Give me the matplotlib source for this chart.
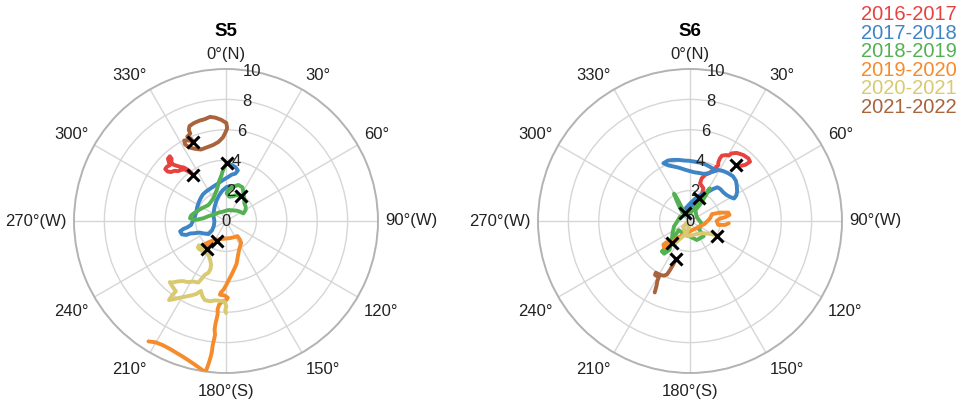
import numpy as np
import matplotlib
matplotlib.use("Agg")
import matplotlib.pyplot as plt
from matplotlib.transforms import offset_copy

plt.rcParams["font.family"] = ["Liberation Sans", "DejaVu Sans"]

# Season labels and colours
seasons = ["2016-2017", "2017-2018", "2018-2019", "2019-2020", "2020-2021", "2021-2022"]
colors = ["#e8423f", "#3d85c6", "#54b153", "#f68b2c", "#d9c970", "#a8643c"]

# Drift tracks: (x, y) offsets from the station, x toward 90°, y toward 0°.
# The first point of each track is the marked position.
s5_1617 = [(-2.15, 3.03), (-2.35, 3.18), (-2.55, 3.30), (-2.75, 3.40), (-2.95, 3.36), (-3.15, 3.28),
           (-3.40, 3.30), (-3.62, 3.22), (-3.85, 3.26), (-4.00, 3.42), (-3.88, 3.58), (-3.70, 3.66),
           (-3.76, 3.88), (-3.82, 4.10), (-3.70, 4.26), (-3.58, 4.10), (-3.60, 3.85), (-3.45, 3.70),
           (-3.20, 3.62), (-3.00, 3.56), (-2.78, 3.52), (-2.60, 3.42), (-2.42, 3.30), (-2.28, 3.15)]
s5_1718 = [(0.04, 3.79), (0.37, 3.68), (0.62, 3.55), (0.78, 3.32), (0.62, 3.12), (0.38, 3.05),
           (0.18, 2.92), (-0.05, 2.78), (-0.30, 2.63), (-0.55, 2.45), (-0.78, 2.30), (-1.05, 2.12),
           (-1.30, 1.95), (-1.52, 1.75), (-1.68, 1.48), (-1.80, 1.20), (-1.90, 0.90), (-1.95, 0.60),
           (-2.05, 0.30), (-2.15, 0.05), (-2.30, -0.26), (-2.55, -0.42), (-2.80, -0.52), (-3.02, -0.68),
           (-2.90, -0.88), (-2.62, -0.92), (-2.35, -0.82), (-2.05, -0.80), (-1.75, -0.76), (-1.45, -0.82),
           (-1.15, -0.86), (-0.92, -0.62), (-0.80, -0.32), (-0.76, -0.02), (-0.82, 0.32), (-0.80, 0.65),
           (-0.74, 0.98), (-0.62, 1.35), (-0.45, 1.70), (-0.22, 2.02), (0.02, 2.22), (0.25, 2.30)]
s5_1819 = [(0.96, 1.64), (0.70, 1.71), (0.42, 1.62), (0.22, 1.60), (0.04, 1.82), (0.15, 2.04),
           (0.48, 2.26), (0.81, 2.37), (1.08, 2.22), (1.14, 1.95), (1.16, 1.71), (1.20, 1.42),
           (1.21, 1.16), (1.30, 0.92), (1.29, 0.72), (1.14, 0.50), (0.90, 0.62), (0.70, 0.68),
           (0.42, 0.70), (0.15, 0.72), (-0.18, 0.62), (-0.50, 0.55), (-0.72, 0.45), (-0.94, 0.39),
           (-1.20, 0.30), (-1.49, 0.18), (-1.78, 0.12), (-2.04, 0.07), (-2.37, 0.18), (-2.30, 0.36),
           (-2.10, 0.52), (-1.90, 0.64), (-1.71, 0.77), (-1.42, 0.92), (-1.16, 1.05), (-1.00, 1.25),
           (-0.83, 1.49), (-0.72, 1.78), (-0.61, 2.04), (-0.52, 2.35), (-0.46, 2.59), (-0.36, 2.85),
           (-0.29, 3.03), (-0.22, 3.28), (-0.12, 3.52), (0.00, 3.72)]
s5_1920 = [(-0.61, -1.29), (-0.90, -1.45), (-1.20, -1.60), (-1.50, -1.72), (-1.75, -1.85), (-1.55, -1.62),
           (-1.20, -1.42), (-0.85, -1.28), (-0.55, -1.22), (-0.25, -1.18), (0.05, -1.15), (0.30, -1.12),
           (0.55, -1.06), (0.75, -0.99), (0.90, -1.20), (1.00, -1.45), (0.90, -1.75), (0.82, -2.10),
           (0.76, -2.45), (0.70, -2.80), (0.55, -3.15), (0.38, -3.50), (0.20, -3.85), (0.02, -4.20),
           (-0.15, -4.50), (-0.35, -4.72), (-0.40, -4.85), (-0.10, -4.90), (0.12, -5.05), (0.02, -5.20),
           (-0.25, -5.30), (-0.45, -5.50), (-0.55, -5.80), (-0.55, -6.15), (-0.62, -6.45), (-0.70, -6.80),
           (-0.75, -7.15), (-0.72, -7.50), (-0.80, -7.85), (-0.88, -8.20), (-0.92, -8.55), (-1.00, -8.90),
           (-1.10, -9.25), (-1.22, -9.60), (-1.35, -9.95), (-1.70, -9.70), (-2.05, -9.45), (-2.45, -9.18),
           (-2.85, -8.92), (-3.30, -8.65), (-3.75, -8.38), (-4.20, -8.15), (-4.65, -7.98), (-5.10, -7.92)]
s5_2021 = [(-1.27, -1.86), (-1.50, -1.70), (-1.78, -1.60), (-1.85, -1.75), (-1.62, -1.95), (-1.35, -2.05),
           (-1.15, -2.25), (-1.05, -2.55), (-0.98, -2.85), (-1.02, -3.15), (-1.15, -3.40), (-1.40, -3.55),
           (-1.60, -3.80), (-1.82, -4.05), (-2.15, -3.98), (-2.50, -4.02), (-2.85, -3.95), (-3.20, -3.98),
           (-3.55, -4.05), (-3.70, -4.02), (-3.50, -4.35), (-3.30, -4.62), (-3.55, -4.90), (-3.75, -5.20),
           (-3.45, -5.15), (-3.05, -5.05), (-2.70, -4.98), (-2.30, -4.90), (-1.95, -4.80), (-1.65, -4.60),
           (-1.55, -4.95), (-1.40, -5.20), (-1.05, -5.28), (-0.70, -5.22), (-0.40, -5.25), (-0.10, -5.30),
           (0.02, -5.60), (-0.05, -5.85), (0.00, -6.05)]
s5_2122 = [(-2.15, 5.22), (-2.45, 5.30), (-2.75, 5.30), (-2.70, 5.05), (-2.45, 4.85), (-2.05, 4.75),
           (-1.65, 4.70), (-1.25, 4.85), (-0.85, 5.00), (-0.50, 5.20), (-0.20, 5.50), (-0.05, 5.80),
           (0.08, 6.10), (0.02, 6.45), (-0.30, 6.65), (-0.70, 6.80), (-1.05, 6.85), (-1.40, 6.70),
           (-1.75, 6.60), (-2.10, 6.45), (-2.40, 6.25), (-2.45, 6.00), (-2.35, 5.75), (-2.55, 5.55),
           (-2.30, 5.40), (-2.15, 5.22)]

s6_1617 = [(3.03, 3.68), (3.30, 3.62), (3.65, 3.70), (3.95, 3.90), (3.84, 4.12), (3.51, 4.34),
           (3.07, 4.48), (2.74, 4.45), (2.55, 4.30), (2.41, 4.34), (2.10, 4.30), (1.97, 4.12),
           (1.86, 3.85), (1.86, 3.68), (1.54, 3.36), (1.25, 3.15), (0.99, 3.03), (0.77, 2.81),
           (0.66, 2.48), (0.88, 2.15), (0.77, 1.71), (0.66, 1.50)]
s6_1718 = [(0.61, 1.49), (0.35, 1.20), (0.05, 0.95), (-0.20, 0.78), (-0.40, 0.65), (-0.25, 0.88),
           (0.05, 1.20), (0.35, 1.48), (0.62, 1.68), (0.99, 1.82), (1.25, 1.95), (1.50, 2.10),
           (1.80, 2.22), (2.00, 2.10), (2.20, 1.88), (2.42, 1.70), (2.70, 1.55), (2.90, 1.48),
           (3.05, 1.68), (3.10, 1.95), (3.08, 2.30), (3.02, 2.65), (2.82, 2.95), (2.50, 3.15),
           (2.20, 3.28), (1.86, 3.36), (1.54, 3.25), (1.21, 3.14), (0.90, 3.10), (0.60, 3.16),
           (0.30, 3.20), (0.00, 3.28), (-0.35, 3.38), (-0.70, 3.50), (-1.05, 3.58), (-1.40, 3.65),
           (-1.75, 3.80), (-1.45, 3.98), (-1.10, 4.02), (-0.75, 4.02), (-0.40, 3.98), (-0.05, 3.96),
           (0.30, 3.90), (0.65, 3.84), (0.95, 3.75), (1.25, 3.60), (1.50, 3.45), (1.65, 3.30)]
s6_1819 = [(-0.33, 0.50), (-0.55, 0.90), (-0.75, 1.30), (-0.95, 1.65), (-1.05, 1.80), (-0.90, 1.40),
           (-0.70, 0.95), (-0.50, 0.55), (-0.30, 0.35), (0.05, 0.55), (0.40, 1.00), (0.80, 1.50),
           (1.05, 1.85), (1.30, 2.15), (1.05, 1.70), (0.70, 1.15), (0.35, 0.70), (0.45, 0.25),
           (0.75, -0.15), (0.60, -0.55), (0.90, -1.00), (0.45, -1.25), (0.05, -1.05), (-0.40, -0.85),
           (-0.75, -0.60), (-1.00, -1.00), (-1.20, -1.45), (-1.55, -1.70), (-1.85, -2.00), (-1.70, -2.15),
           (-1.35, -1.90), (-1.20, -1.30), (-1.15, -0.80), (-1.05, -0.35), (-0.85, -0.05), (-0.65, 0.30)]
s6_1920 = [(-1.21, -1.47), (-1.55, -1.40), (-1.75, -1.55), (-1.70, -1.75), (-1.45, -1.70), (-1.00, -1.25),
           (-0.55, -0.95), (-0.05, -0.70), (0.45, -0.45), (0.95, -0.20), (1.30, 0.15), (1.45, 0.45),
           (1.97, 0.55), (2.52, 0.55), (2.60, 0.40), (2.30, 0.25), (1.95, 0.15), (1.75, 0.00),
           (1.86, -0.26), (2.30, -0.26), (2.55, -0.15)]
s6_2021 = [(1.80, -0.96), (1.35, -0.85), (0.90, -0.80), (0.45, -0.85), (0.10, -0.95), (-0.20, -1.00),
           (-0.35, -0.70), (-0.45, -0.40), (-0.25, -0.15), (-0.05, -0.35), (-0.20, -0.75), (-0.50, -1.05),
           (-0.80, -1.30), (-1.05, -1.45)]
s6_2122 = [(-0.92, -2.52), (-1.10, -2.85), (-1.30, -3.20), (-1.50, -3.50), (-1.70, -3.60), (-1.95, -3.55),
           (-2.25, -3.40), (-2.30, -3.55), (-2.05, -3.70), (-2.15, -3.95), (-2.20, -4.25), (-2.28, -4.55),
           (-2.32, -4.70)]

stations = {
    "S5": [s5_1617, s5_1718, s5_1819, s5_1920, s5_2021, s5_2122],
    "S6": [s6_1617, s6_1718, s6_1819, s6_1920, s6_2021, s6_2122],
}

theta_ticks = np.arange(0, 360, 30)
theta_labels = ["0°(N)", "30°", "60°", "90°(W)", "120°", "150°",
                "180°(S)", "210°", "240°", "270°(W)", "300°", "330°"]
r_ticks = [0, 2, 4, 6, 8, 10]
r_max = 10
r_label_angle = 10   # degrees, clockwise from north

W, H = 971, 404
fig = plt.figure(figsize=(W / 100, H / 100), dpi=100)

centers_px = [226, 690]
radius_px = 152
cy_px = 221
label_gap_pt = 5.0
lower_extra_pt = 2.6
text_color = "#222222"

for (name, tracks), cx in zip(stations.items(), centers_px):
    ax = fig.add_axes([(cx - radius_px) / W, (H - cy_px - radius_px) / H,
                       2 * radius_px / W, 2 * radius_px / H], projection="polar")
    ax.set_theta_zero_location("N")
    ax.set_theta_direction(-1)
    ax.set_rlim(0, r_max)
    ax.set_yticks(r_ticks)
    ax.set_yticklabels([])
    ax.set_xticks(np.deg2rad(theta_ticks))
    ax.set_xticklabels([])
    ax.tick_params(axis="both", length=0)
    ax.grid(color="#d6d6d6", linewidth=1.0)
    ax.spines["polar"].set_color("#b3b3b3")
    ax.spines["polar"].set_linewidth(1.4)

    # angular labels just outside the rim, aligned away from the centre
    for ang, lab in zip(theta_ticks, theta_labels):
        s, c = np.sin(np.deg2rad(ang)), np.cos(np.deg2rad(ang))
        ha = "left" if s > 0.01 else ("right" if s < -0.01 else "center")
        va = "bottom" if c > 0.01 else ("top" if c < -0.01 else "center")
        dy = label_gap_pt * c - (lower_extra_pt if c < -0.01 else 0.0)
        tr = offset_copy(ax.transData, fig=fig, x=label_gap_pt * s, y=dy, units="points")
        ax.text(np.deg2rad(ang), r_max, lab, transform=tr, ha=ha, va=va,
                fontsize=12, color=text_color, clip_on=False)

    # radial labels along the 10° spoke
    for rv in r_ticks:
        ax.text(np.deg2rad(r_label_angle), rv, str(rv), ha="center", va="center",
                fontsize=12, color=text_color, zorder=3.5, clip_on=False)

    for track, col in zip(tracks, colors):
        xy = np.array(track)
        th = np.unwrap(np.arctan2(xy[:, 0], xy[:, 1]))
        r = np.hypot(xy[:, 0], xy[:, 1])
        ax.plot(th, r, color=col, linewidth=2.8, solid_capstyle="round",
                solid_joinstyle="round", zorder=3)
    for track in tracks:
        x0, y0 = track[0]
        ax.plot(np.arctan2(x0, y0), np.hypot(x0, y0), marker="x", color="black",
                markersize=8, markeredgewidth=2.2, linestyle="none", zorder=4)

    title_baseline_px = 36
    ax.text(0.5, 1 + (cy_px - radius_px - title_baseline_px) / (2 * radius_px), name,
            transform=ax.transAxes, ha="center", va="baseline",
            fontsize=13.5, fontweight="bold", color="black")

# Season key, coloured text in the top-right corner
for i, (label, col) in enumerate(zip(seasons, colors)):
    fig.text(861 / W, 1 - (20.3 + 18.45 * i) / H, label, color=col,
             fontsize=14.5, ha="left", va="baseline")

fig.savefig("out.png", dpi=100)
